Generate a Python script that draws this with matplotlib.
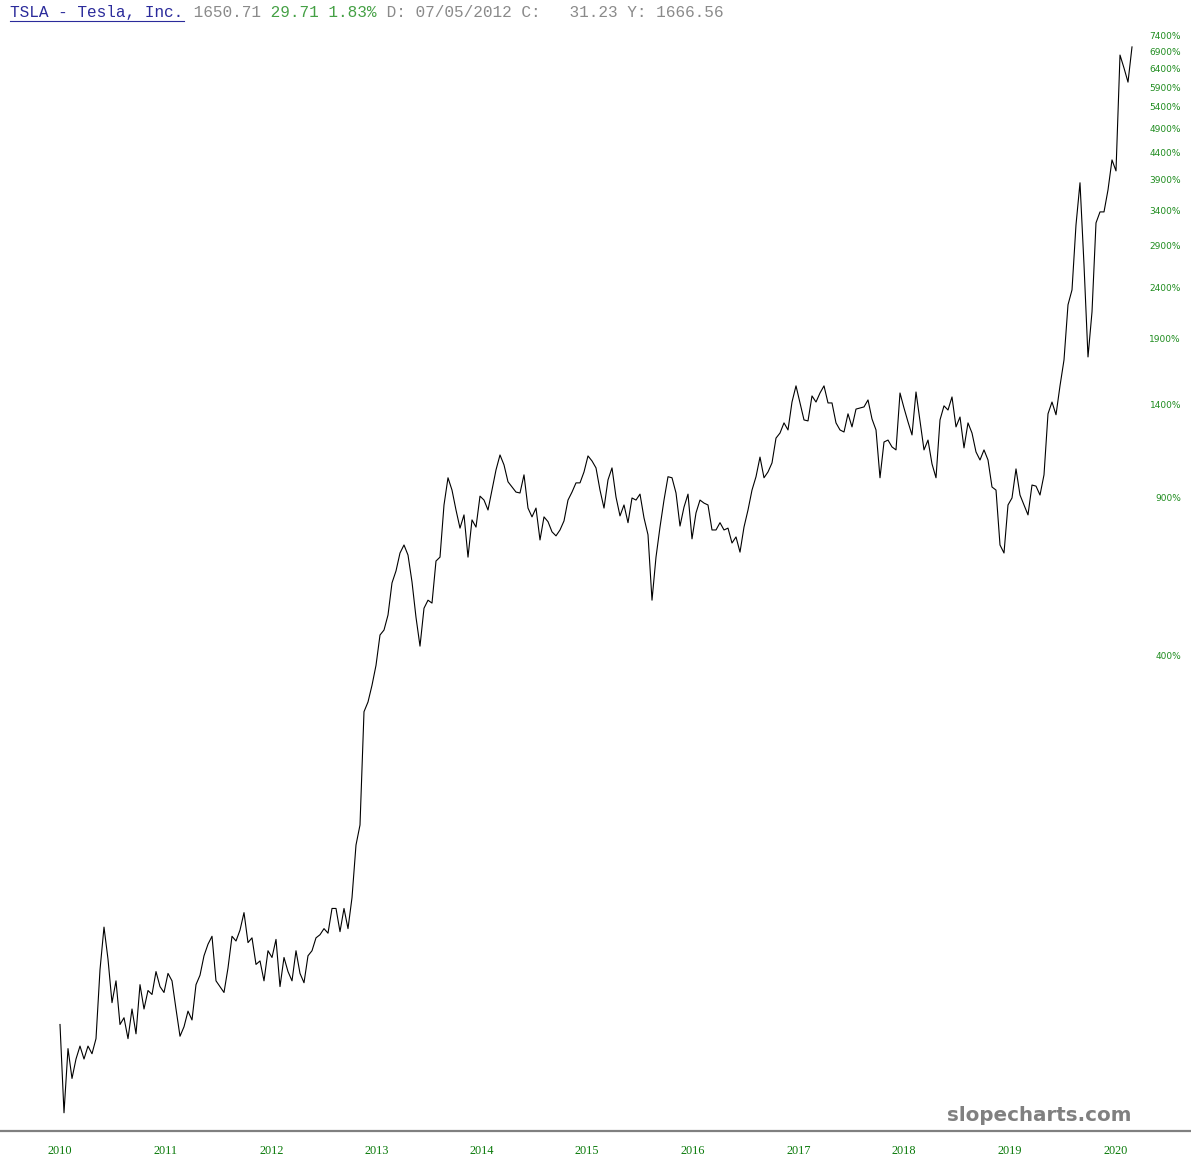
import numpy as np
import matplotlib
matplotlib.use("Agg")
import matplotlib.pyplot as plt
from matplotlib.lines import Line2D

W, H = 1191, 1171

# cumulative gain in percent, one value per bar
pct_gain = [
    0, -32, -10, -21, -14, -9, -14, -9, -12, -6,
    27, 53, 33, 10, 21, 0, 3, -6, 7, -4,
    19, 7, 16, 14, 26, 18, 15, 25, 21, 7,
    -5, -1, 6, 2, 19, 24, 35, 42, 47, 21,
    18, 15, 28, 47, 44, 51, 63, 43, 46, 30,
    32, 21, 38, 34, 45, 18, 34, 26, 21, 38,
    25, 20, 35, 38, 46, 48, 52, 49, 66, 66,
    50, 66, 52, 74, 119, 139, 292, 309, 340, 380,
    448, 460, 498, 588, 625, 684, 712, 677, 591, 492,
    422, 516, 538, 530, 657, 670, 867, 989, 932, 846,
    774, 826, 670, 806, 778, 905, 888, 846, 932, 1027,
    1103, 1052, 970, 946, 923, 919, 1003, 854, 818, 854,
    730, 818, 799, 760, 745, 767, 802, 888, 923, 965,
    965, 1017, 1098, 1072, 1037, 932, 854, 979, 1037, 901,
    822, 867, 795, 897, 888, 914, 814, 749, 538, 670,
    778, 888, 994, 989, 919, 782, 858, 914, 734, 834,
    888, 875, 867, 767, 767, 795, 767, 774, 719, 741,
    687, 778, 846, 932, 994, 1092, 989, 1017, 1062, 1195,
    1224, 1284, 1242, 1416, 1527, 1410, 1302, 1296, 1457, 1416,
    1477, 1527, 1410, 1410, 1284, 1242, 1230, 1340, 1260, 1370,
    1377, 1384, 1430, 1308, 1242, 989, 1173, 1184, 1146, 1130,
    1477, 1377, 1290, 1213, 1484, 1296, 1130, 1184, 1057, 989,
    1302, 1391, 1364, 1450, 1260, 1320, 1141, 1284, 1224, 1119,
    1077, 1130, 1077, 946, 932, 712, 684, 867, 897, 1032,
    910, 867, 826, 955, 950, 910, 1003, 1340, 1416, 1334,
    1527, 1722, 2218, 2374, 3187, 3850, 2660, 1746, 2147, 3215,
    3378, 3378, 3729, 4265, 4060, 6800, 6420, 6030, 7050,
]

year_labels = ["2010", "2011", "2012", "2013", "2014", "2015",
               "2016", "2017", "2018", "2019", "2020"]
year_bars = [0, 26.4, 52.8, 79.2, 105.4, 131.8, 158.2, 184.6, 211, 237.4, 264]

pct_ticks = [400, 900, 1400, 1900, 2400, 2900, 3400, 3900,
             4400, 4900, 5400, 5900, 6400, 6900, 7400]

header = [
    ("TSLA - Tesla, Inc.", "#2b2b9b"),
    (" 1650.71", "#8a8a8a"),
    (" 29.71 1.83%", "#44a044"),
    (" D: 07/05/2012 C:   31.23 Y: 1666.56", "#8a8a8a"),
]

fig = plt.figure(figsize=(W / 100, H / 100), dpi=100)
ax = fig.add_axes([0, 40 / H, 1140 / W, 1101 / H])

bars = np.arange(len(pct_gain))
growth = 1 + np.array(pct_gain) / 100.0
ax.plot(bars, growth, color="black", lw=0.8)

ax.set_yscale("log")
ax.set_xlim(-15, 270)
ax.set_ylim(0.628, 76.98)
for s in ax.spines.values():
    s.set_visible(False)

ax.yaxis.tick_right()
ax.set_yticks([1 + p / 100 for p in pct_ticks], [f"{p}%" for p in pct_ticks])
ax.minorticks_off()
ax.tick_params(axis="y", length=0, pad=29.5, labelsize=6.5, labelcolor="#1f8c1f")
for lbl in ax.get_yticklabels():
    lbl.set_horizontalalignment("right")

ax.set_xticks(year_bars, year_labels)
ax.tick_params(axis="x", length=0, pad=10, labelsize=8.8, labelcolor="#0a7a0a")
for lbl in ax.get_xticklabels():
    lbl.set_family("Liberation Serif")

# bottom rule across the whole width
yb = 1 - 1131 / H
fig.add_artist(Line2D([0, 1], [yb, yb], transform=fig.transFigure,
                      color="#808080", lw=1.6))

# header line, monospace, coloured pieces
cw = 0.6 * 11.6 * 100 / 72  # char advance in px
n = 0
for txt, col in header:
    fig.text((10 + n * cw) / W, 1 - 17 / H, txt, family="Liberation Mono",
             fontsize=11.6, color=col, va="baseline", ha="left")
    n += len(txt)
ul = 1 - 20.5 / H
fig.add_artist(Line2D([10 / W, (10 + len(header[0][0]) * cw) / W], [ul, ul],
                      transform=fig.transFigure, color="#2b2b9b", lw=0.8))

fig.text(1131 / W, 1 - 1121 / H, "slopecharts.com", family="DejaVu Sans",
         fontsize=14.3, fontweight="bold", color="#808080", ha="right", va="baseline")

fig.savefig("out.png", dpi=100)
